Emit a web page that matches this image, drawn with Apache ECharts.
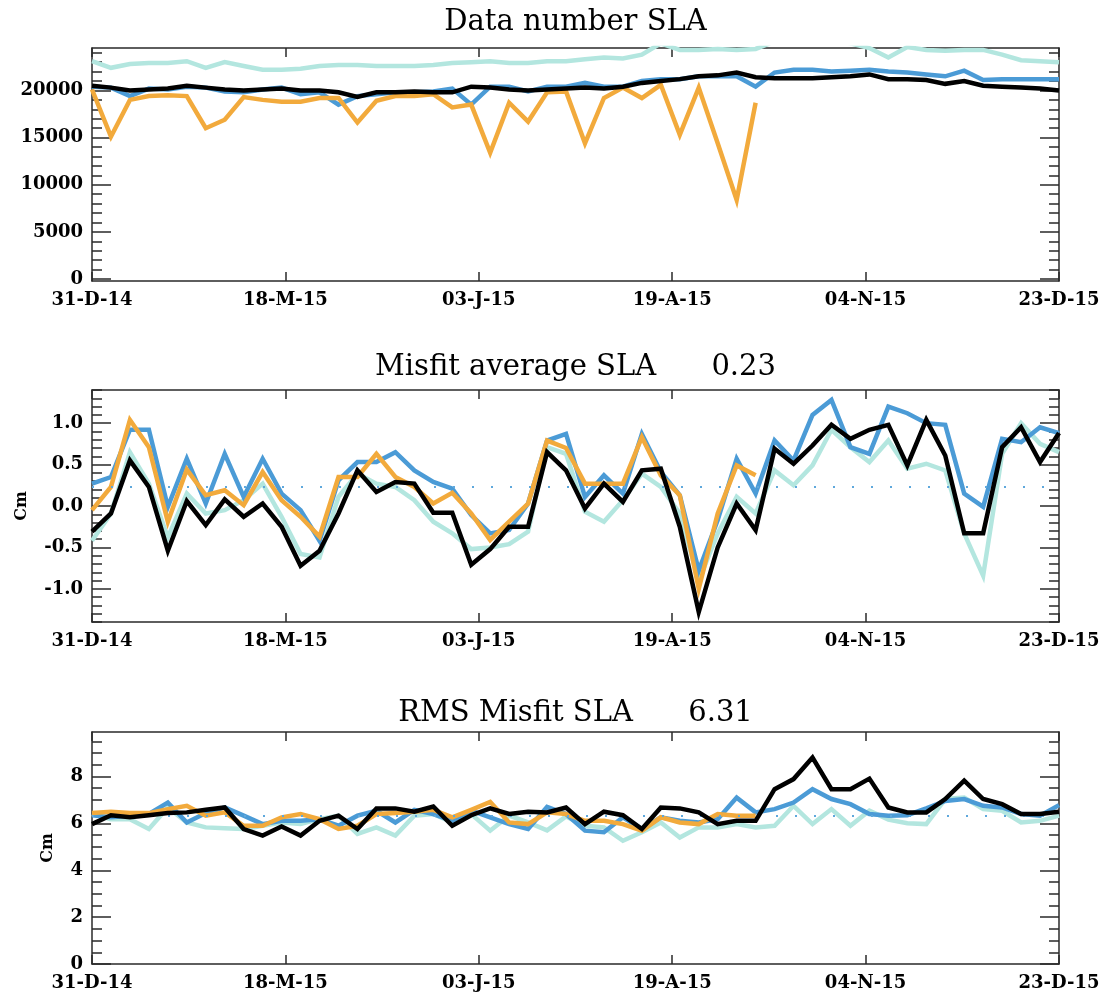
<!DOCTYPE html>
<html>
<head>
<meta charset="utf-8">
<script src="https://cdn.jsdelivr.net/npm/echarts@6/dist/echarts.min.js"></script>
<style>
  html, body { margin: 0; padding: 0; background: #ffffff; }
  #chart { width: 1109px; height: 994px; }
</style>
</head>
<body>
<div id="chart"></div>
<script>
// Axis tick labels along the time axis
const xTickLabels = ['31-D-14', '18-M-15', '03-J-15', '19-A-15', '04-N-15', '23-D-15'];

// Weekly analysis dates (52 weeks starting 31 Dec 2014)
const weekStart = Date.UTC(2014, 11, 31);
const weeks = [];
for (let i = 0; i < 52; i++) {
  weeks.push(new Date(weekStart + i * 7 * 86400000).toISOString().slice(0, 10));
}

// Summary statistics shown in the titles
const misfitMean = 0.23;
const rmsMean = 6.31;

// Data number SLA
const countCyan = [23100, 22400, 22800, 22900, 22900, 23100, 22400, 23000, 22600, 22200, 22200, 22300, 22600, 22700, 22700, 22600, 22600, 22600, 22700, 22900, 23000, 23100, 22900, 22900, 23100, 23100, 23300, 23500, 23400, 23800, 25000, 24300, 24300, 24400, 24300, 24400, 25200, 25500, 25500, 25400, 25000, 24500, 23500, 24600, 24300, 24200, 24300, 24300, 23800, 23200, 23100, 23000];
const countBlue = [20400, 20300, 19400, 20200, 20100, 20400, 20300, 19900, 19800, 20100, 20300, 19600, 19800, 18500, 19400, 19600, 19800, 19800, 19900, 20200, 18500, 20400, 20400, 19900, 20400, 20400, 20800, 20400, 20400, 21000, 21200, 21200, 21500, 21500, 21500, 20400, 21900, 22200, 22200, 22000, 22100, 22200, 22000, 21900, 21700, 21500, 22100, 21100, 21200, 21200, 21200, 21200];
const countOrange = [20100, 15100, 19000, 19400, 19500, 19400, 16000, 16900, 19300, 19000, 18800, 18800, 19200, 19200, 16600, 18900, 19400, 19400, 19600, 18200, 18500, 13400, 18700, 16700, 19800, 19900, 14400, 19200, 20300, 19200, 20600, 15300, 20300, 14400, 8400, 18700, null, null, null, null, null, null, null, null, null, null, null, null, null, null, null, null];
const countBlack = [20500, 20300, 20000, 20100, 20200, 20500, 20300, 20100, 20000, 20100, 20200, 20000, 20000, 19800, 19300, 19800, 19800, 19900, 19800, 19800, 20400, 20300, 20100, 20000, 20100, 20200, 20300, 20200, 20400, 20800, 21000, 21200, 21500, 21600, 21900, 21400, 21300, 21300, 21300, 21400, 21500, 21700, 21200, 21200, 21100, 20700, 21000, 20500, 20400, 20300, 20200, 20000];

// Misfit average SLA (cm)
const meanCyan = [-0.42, -0.09, 0.65, 0.27, -0.38, 0.15, -0.09, -0.05, 0.07, 0.27, -0.13, -0.58, -0.62, 0.11, 0.39, 0.27, 0.23, 0.07, -0.19, -0.33, -0.52, -0.50, -0.46, -0.31, 0.71, 0.63, -0.07, -0.19, 0.07, 0.39, 0.23, -0.09, -0.90, -0.33, 0.11, -0.09, 0.43, 0.25, 0.49, 0.92, 0.71, 0.53, 0.79, 0.45, 0.51, 0.43, -0.33, -0.84, 0.63, 1.00, 0.75, 0.65];
const meanBlue = [0.27, 0.35, 0.92, 0.92, -0.01, 0.57, 0.03, 0.63, 0.11, 0.57, 0.15, -0.05, -0.42, 0.31, 0.53, 0.53, 0.65, 0.43, 0.29, 0.21, -0.11, -0.33, -0.29, 0.03, 0.79, 0.87, 0.11, 0.37, 0.15, 0.87, 0.41, 0.13, -0.78, -0.17, 0.57, 0.15, 0.79, 0.55, 1.10, 1.28, 0.71, 0.63, 1.20, 1.12, 1.00, 0.98, 0.15, -0.01, 0.81, 0.77, 0.95, 0.88];
const meanOrange = [-0.05, 0.23, 1.04, 0.71, -0.19, 0.44, 0.13, 0.19, 0.01, 0.41, 0.07, -0.13, -0.37, 0.35, 0.35, 0.63, 0.35, 0.23, 0.03, 0.16, -0.09, -0.41, -0.19, 0.03, 0.79, 0.70, 0.27, 0.27, 0.27, 0.83, 0.37, 0.13, -1.00, -0.09, 0.49, 0.37, null, null, null, null, null, null, null, null, null, null, null, null, null, null, null, null];
const meanBlack = [-0.31, -0.09, 0.55, 0.23, -0.54, 0.06, -0.23, 0.08, -0.13, 0.03, -0.25, -0.72, -0.54, -0.09, 0.43, 0.17, 0.29, 0.27, -0.08, -0.08, -0.71, -0.52, -0.25, -0.25, 0.65, 0.43, -0.03, 0.27, 0.05, 0.43, 0.45, -0.25, -1.28, -0.50, 0.03, -0.29, 0.69, 0.51, 0.73, 0.98, 0.81, 0.92, 0.98, 0.49, 1.04, 0.61, -0.33, -0.33, 0.71, 0.95, 0.53, 0.88];

// RMS Misfit SLA (cm)
const rmsCyan = [6.40, 6.18, 6.18, 5.76, 6.68, 6.04, 5.83, 5.79, 5.76, 5.90, 6.04, 5.97, 6.18, 6.33, 5.55, 5.83, 5.48, 6.33, 6.40, 6.04, 6.40, 5.69, 6.33, 6.04, 5.70, 6.30, 5.90, 5.83, 5.26, 5.62, 6.04, 5.40, 5.83, 5.83, 5.97, 5.83, 5.90, 6.75, 5.97, 6.61, 5.90, 6.54, 6.16, 6.01, 5.97, 7.04, 7.10, 6.61, 6.54, 6.04, 6.11, 6.33];
const rmsBlue = [6.35, 6.26, 6.33, 6.40, 6.89, 6.04, 6.44, 6.68, 6.33, 5.97, 6.11, 6.11, 6.18, 5.90, 6.33, 6.54, 6.04, 6.58, 6.40, 6.11, 6.54, 6.26, 5.97, 5.76, 6.70, 6.40, 5.69, 5.62, 6.26, 5.76, 6.26, 6.11, 6.04, 6.18, 7.10, 6.47, 6.61, 6.89, 7.46, 7.04, 6.82, 6.40, 6.33, 6.35, 6.64, 6.96, 7.04, 6.75, 6.68, 6.40, 6.33, 6.78];
const rmsOrange = [6.44, 6.50, 6.44, 6.44, 6.61, 6.75, 6.33, 6.47, 5.90, 5.90, 6.26, 6.40, 6.18, 5.76, 5.90, 6.40, 6.44, 6.50, 6.58, 6.26, 6.58, 6.92, 6.04, 5.97, 6.47, 6.40, 6.11, 6.11, 5.97, 5.69, 6.26, 6.04, 5.97, 6.40, 6.33, 6.33, null, null, null, null, null, null, null, null, null, null, null, null, null, null, null, null];
const rmsBlack = [5.97, 6.35, 6.26, 6.35, 6.44, 6.47, 6.58, 6.68, 5.76, 5.48, 5.87, 5.48, 6.11, 6.33, 5.76, 6.64, 6.64, 6.50, 6.72, 5.90, 6.35, 6.64, 6.40, 6.50, 6.47, 6.68, 5.97, 6.50, 6.35, 5.76, 6.68, 6.64, 6.47, 5.97, 6.11, 6.11, 7.46, 7.89, 8.81, 7.46, 7.46, 7.91, 6.68, 6.47, 6.47, 7.04, 7.82, 7.04, 6.82, 6.40, 6.40, 6.50];

const COLORS = { cyan: '#b3e6df', blue: '#4b9bd6', orange: '#f2aa3c', black: '#000000' };
const LABEL_FONT = 'DejaVu Serif';
const LABEL_SIZE = 18;
const FRAME = { color: '#2a2a2a', width: 1.5 };

function steps(from, to, step) {
  const out = [];
  for (let v = from; v <= to + step / 2; v += step) out.push(Math.round(v * 1e6) / 1e6);
  return out;
}

const panels = [
  {
    title: 'Data number SLA', titleY: 22,
    top: 48, height: 233, min: -200, max: 24500,
    major: [0, 5000, 10000, 15000, 20000], minor: steps(1000, 24000, 1000),
    fmt: v => String(v), unit: '', unitGap: 0,
    lines: [countCyan, countBlue, countOrange, countBlack], mean: null
  },
  {
    title: 'Misfit average SLA      ' + misfitMean.toFixed(2), titleY: 367,
    top: 390, height: 232, min: -1.4, max: 1.4,
    major: [-1, -0.5, 0, 0.5, 1], minor: steps(-1.4, 1.4, 0.1),
    fmt: v => v.toFixed(1), unit: 'Cm', unitGap: 62,
    lines: [meanCyan, meanBlue, meanOrange, meanBlack], mean: misfitMean
  },
  {
    title: 'RMS Misfit SLA      ' + rmsMean.toFixed(2), titleY: 713,
    top: 732, height: 232, min: 0, max: 9.9,
    major: [0, 2, 4, 6, 8], minor: steps(0, 9.5, 0.5),
    fmt: v => String(v), unit: 'Cm', unitGap: 36,
    lines: [rmsCyan, rmsBlue, rmsOrange, rmsBlack], mean: rmsMean
  }
];

const option = {
  animation: false,
  backgroundColor: '#ffffff',
  grid: [], xAxis: [], yAxis: [], series: [], graphic: []
};

const lineColors = [COLORS.cyan, COLORS.blue, COLORS.orange, COLORS.black];
const labelStyle = { color: '#000', fontFamily: LABEL_FONT, fontWeight: 'bold', fontSize: LABEL_SIZE };

panels.forEach((p, g) => {
  option.grid.push({ left: 92, right: 50, top: p.top, height: p.height, outerBoundsMode: 'none' });

  const xb = option.xAxis.length;
  // bottom axis: ticks and date labels
  option.xAxis.push({
    type: 'category', gridIndex: g, position: 'bottom', data: xTickLabels, boundaryGap: false,
    axisLine: { show: true, onZero: false, lineStyle: FRAME },
    axisTick: { show: true, inside: true, length: 9, interval: 0, lineStyle: FRAME },
    axisLabel: Object.assign({ show: true, interval: 0, margin: 10 }, labelStyle),
    splitLine: { show: false }
  });
  // top edge of the frame
  option.xAxis.push({
    type: 'category', gridIndex: g, position: 'top', data: xTickLabels, boundaryGap: false,
    axisLine: { show: true, onZero: false, lineStyle: FRAME },
    axisTick: { show: true, inside: true, length: 9, interval: 0, lineStyle: FRAME },
    axisLabel: { show: false }, splitLine: { show: false }
  });
  // weekly axis carrying the series
  option.xAxis.push({
    type: 'category', gridIndex: g, data: weeks, boundaryGap: false, show: false,
    axisLine: { onZero: false }
  });

  const yb = option.yAxis.length;
  const yCommon = { type: 'value', gridIndex: g, min: p.min, max: p.max, splitLine: { show: false } };
  option.yAxis.push(Object.assign({}, yCommon, {
    position: 'left',
    name: p.unit, nameLocation: 'middle', nameGap: p.unitGap, nameRotate: 90,
    nameTextStyle: { color: '#000', fontFamily: LABEL_FONT, fontWeight: 'bold', fontSize: 16 },
    axisLine: { show: true, onZero: false, lineStyle: FRAME },
    axisTick: { show: true, inside: true, length: 19, customValues: p.major, lineStyle: FRAME },
    axisLabel: Object.assign({ show: true, customValues: p.major, margin: 9, formatter: p.fmt }, labelStyle)
  }));
  option.yAxis.push(Object.assign({}, yCommon, {
    position: 'left', axisLine: { show: false, onZero: false },
    axisTick: { show: true, inside: true, length: 10, customValues: p.minor, lineStyle: FRAME },
    axisLabel: { show: false }
  }));
  option.yAxis.push(Object.assign({}, yCommon, {
    position: 'right', axisLine: { show: true, onZero: false, lineStyle: FRAME },
    axisTick: { show: true, inside: true, length: 19, customValues: p.major, lineStyle: FRAME },
    axisLabel: { show: false }
  }));
  option.yAxis.push(Object.assign({}, yCommon, {
    position: 'right', axisLine: { show: false, onZero: false },
    axisTick: { show: true, inside: true, length: 10, customValues: p.minor, lineStyle: FRAME },
    axisLabel: { show: false }
  }));

  p.lines.forEach((vals, k) => {
    const s = {
      type: 'line', xAxisIndex: xb + 2, yAxisIndex: yb, data: vals,
      showSymbol: false, connectNulls: false, clip: true,
      lineStyle: { color: lineColors[k], width: 4.5, join: 'miter' },
      itemStyle: { color: lineColors[k] },
      z: 2 + k
    };
    if (k === 0 && p.mean !== null) {
      s.markLine = {
        silent: true, symbol: 'none', label: { show: false },
        lineStyle: { color: '#5fa8dc', width: 2, type: [2, 17] },
        data: [{ yAxis: p.mean }]
      };
    }
    option.series.push(s);
  });

  option.graphic.push({
    type: 'text', x: 575.5, y: p.titleY,
    style: { text: p.title, fill: '#000', font: 'normal 29px "DejaVu Serif"', align: 'center', verticalAlign: 'middle' }
  });
});

const chart = echarts.init(document.getElementById('chart'), null, { renderer: 'canvas' });
chart.setOption(option);
</script>
</body>
</html>
